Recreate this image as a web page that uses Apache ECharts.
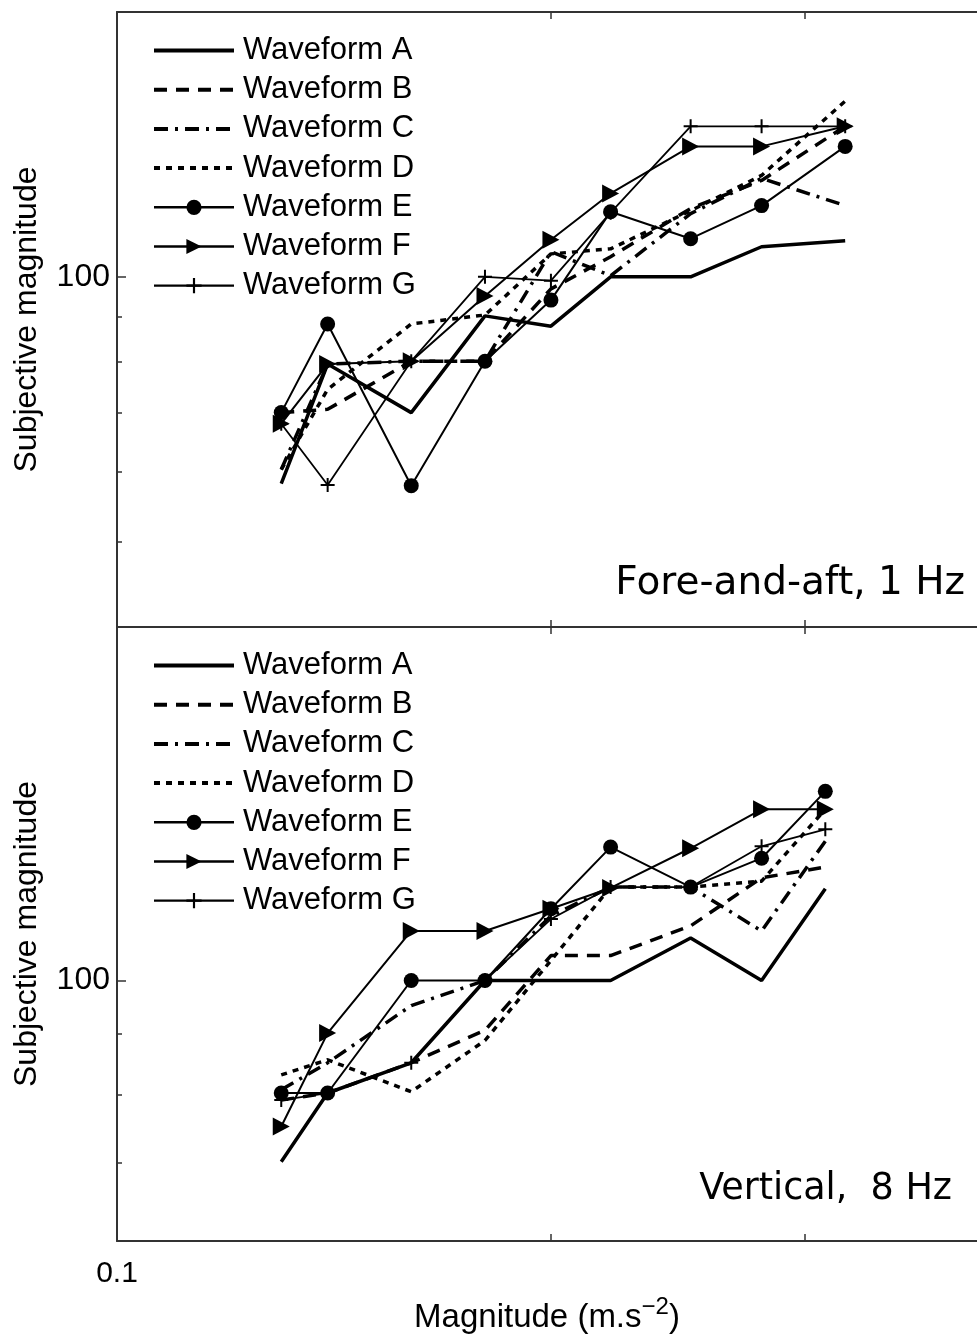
<!DOCTYPE html>
<html>
<head>
<meta charset="utf-8">
<script src="https://cdn.jsdelivr.net/npm/echarts@6/dist/echarts.min.js"></script>
<style>
  html, body { margin: 0; padding: 0; background: #fff; }
  #chart { width: 977px; height: 1336px; }
</style>
</head>
<body>
<div id="chart"></div>
<script>
// waveform names (same in both panels)
const waveforms = ['Waveform A', 'Waveform B', 'Waveform C', 'Waveform D', 'Waveform E', 'Waveform F', 'Waveform G']

// stimulus magnitudes, m.s^-2
const magForeAft = [0.13, 0.14, 0.16, 0.18, 0.2, 0.22, 0.25, 0.28, 0.32]
const magVertical = [0.13, 0.14, 0.16, 0.18, 0.2, 0.22, 0.25, 0.28, 0.31]

// fore-and-aft, 1 Hz
const foreAftA = [58.2, 79.6, 70.1, 90.3, 87.9, 100, 100, 108.2, 109.9]
const foreAftB = [70.1, 70.7, 80.2, 80.2, 96.9, 105.4, 119.6, 128.7, 148.3]
const foreAftC = [60.4, 79.6, 80.2, 80.2, 106.8, 100.3, 118.0, 129.4, 120.5]
const foreAftD = [60.4, 74.5, 88.4, 90.5, 106.2, 107.6, 118.9, 130.4, 158.4]
const foreAftE = [70.1, 88.4, 57.9, 80.2, 94.1, 118.6, 110.5, 120.5, 140.7]
const foreAftF = [68.1, 79.6, 80.2, 95.1, 110.2, 124.4, 140.7, 140.7, 148.3]
const foreAftG = [68.1, 58.0, 80.2, 100, 99.0, 118.3, 148.3, 148.3, 148.3]

// vertical, 8 Hz
const verticalA = [70.1, 80.2, 85.1, 100, 100, 100, 108.7, 100, 119.7]
const verticalB = [79.1, 80.2, 85.1, 90.7, 105.0, 105.0, 111.3, 122.3, 124.9]
const verticalC = [80.7, 85.1, 95.2, 100, 113.5, 120.1, 120.1, 110.2, 131.4]
const verticalD = [83.1, 85.6, 80.4, 88.9, 104.0, 120.1, 120.1, 121.5, 139.9]
const verticalE = [80.2, 80.2, 100, 100, 115.1, 129.9, 120.1, 127.1, 144.9]
const verticalF = [75.1, 90.2, 110.2, 110.2, 115.1, 119.9, 129.6, 139.9, 139.9]
const verticalG = [79.1, 80.2, 85.1, 100, 112.8, 120.1, 120.1, 130.1, 134.5]

// tick values
const xTicks = [0.2, 0.3]
const xLabels = [0.1]
const yMajor = [100]
const yMinorTop = [50, 60, 70, 80, 90]
const yMinorBottom = [70, 80, 90]

const foreAftSets = [foreAftA, foreAftB, foreAftC, foreAftD, foreAftE, foreAftF, foreAftG]
const verticalSets = [verticalA, verticalB, verticalC, verticalD, verticalE, verticalF, verticalG]

const triangleRight = 'path://M0,0L12,7L0,14Z'
const plus = 'path://M6,0H8V14H6Z M0,6H14V8H0Z'

const styles = [
  { type: 'solid', width: 3.5, symbol: 'none', size: 0 },
  { type: [13, 9], width: 3.5, symbol: 'none', size: 0 },
  { type: [14, 7, 3, 7], width: 3.5, symbol: 'none', size: 0 },
  { type: [6, 6], width: 3.5, symbol: 'none', size: 0 },
  { type: 'solid', width: 2, symbol: 'circle', size: 15 },
  { type: 'solid', width: 2, symbol: triangleRight, size: [17, 18] },
  { type: 'solid', width: 1.8, symbol: plus, size: 14 }
]

const font = 'Liberation Sans'
const axisColor = '#333'

function xAxis(grid, position, withLabel) {
  const ax = {
    type: 'log',
    logBase: 10,
    gridIndex: grid,
    position: position,
    min: 0.1,
    max: 0.395,
    axisLine: { show: true, onZero: false, lineStyle: { color: axisColor, width: 2 } },
    axisTick: { show: true, inside: true, length: 7, customValues: xTicks, lineStyle: { color: axisColor, width: 1.5 } },
    axisLabel: { show: false },
    splitLine: { show: false }
  }
  if (withLabel) {
    ax.axisLabel = { show: true, customValues: xLabels, fontSize: 30, fontFamily: font, color: '#000', margin: 18 }
    ax.name = 'Magnitude (m.s{sup|\u22122})'
    ax.nameLocation = 'middle'
    ax.nameGap = 54
    ax.nameTextStyle = {
      fontSize: 33, fontFamily: font, color: '#000',
      rich: { sup: { fontSize: 24, fontFamily: font, color: '#000', padding: [0, 0, 22, 0] } }
    }
  }
  return ax
}

function yAxis(grid, min, ticks, major) {
  const ax = {
    type: 'log',
    logBase: 10,
    gridIndex: grid,
    position: 'left',
    min: min,
    max: 200,
    axisLine: { show: major, onZero: false, lineStyle: { color: axisColor, width: 2 } },
    axisTick: { show: true, inside: true, length: major ? 9 : 5, customValues: ticks, lineStyle: { color: axisColor, width: 1.5 } },
    axisLabel: { show: false },
    splitLine: { show: false }
  }
  if (major) {
    ax.axisLabel = { show: true, customValues: ticks, fontSize: 32, fontFamily: font, color: '#000', margin: 7 }
    ax.name = 'Subjective magnitude'
    ax.nameLocation = 'middle'
    ax.nameGap = 74
    ax.nameTextStyle = { fontSize: 32, fontFamily: font, color: '#000' }
  }
  return ax
}

const series = []
function addPanel(sets, mags, xIdx, yIdx) {
  sets.forEach((vals, i) => {
    const st = styles[i]
    series.push({
      name: waveforms[i],
      type: 'line',
      xAxisIndex: xIdx,
      yAxisIndex: yIdx,
      data: mags.map((m, j) => [m, vals[j]]),
      symbol: st.symbol,
      symbolSize: st.size,
      showSymbol: st.symbol !== 'none',
      lineStyle: { color: '#000', width: st.width, type: st.type },
      itemStyle: { color: '#000' },
      silent: true,
      z: 2 + i
    })
  })
}
addPanel(foreAftSets, magForeAft, 0, 0)
addPanel(verticalSets, magVertical, 3, 2)

const legendData = waveforms.map((n, i) => {
  const item = { name: n, lineStyle: { width: styles[i].width + 0.5 } }
  if (styles[i].symbol === 'none') item.itemStyle = { opacity: 0 }
  return item
})

function legend(top) {
  return {
    orient: 'vertical',
    left: 152,
    top: top,
    padding: 0,
    itemWidth: 80,
    itemHeight: 19,
    itemGap: 8.2,
    selectedMode: false,
    data: legendData,
    textStyle: { fontSize: 31, lineHeight: 30, fontFamily: font, color: '#000', padding: [0, 0, 0, 4] }
  }
}

const chart = echarts.init(document.getElementById('chart'), null, { renderer: 'canvas' })

chart.setOption({
  animation: false,
  backgroundColor: '#fff',
  textStyle: { fontFamily: font },
  title: [
    { text: 'Fore-and-aft, 1 Hz', right: 12, top: 564, padding: 0,
      textStyle: { fontSize: 39, fontWeight: 'normal', fontFamily: 'DejaVu Sans', color: '#000' } },
    { text: 'Vertical,  8 Hz', right: 25, top: 1171, padding: 0,
      textStyle: { fontSize: 36.5, fontWeight: 'normal', fontFamily: 'DejaVu Sans', color: '#000' } }
  ],
  legend: [legend(35), legend(650)],
  grid: [
    { left: 117, top: 12, right: 0, height: 615 },
    { left: 117, top: 627, right: 0, height: 614 }
  ],
  xAxis: [
    xAxis(0, 'bottom', false),
    xAxis(0, 'top', false),
    xAxis(1, 'top', false),
    xAxis(1, 'bottom', true)
  ],
  yAxis: [
    yAxis(0, 40, yMajor, true),
    yAxis(0, 40, yMinorTop, false),
    yAxis(1, 60, yMajor, true),
    yAxis(1, 60, yMinorBottom, false)
  ],
  series: series
})

window.addEventListener('resize', () => chart.resize())
</script>
</body>
</html>
